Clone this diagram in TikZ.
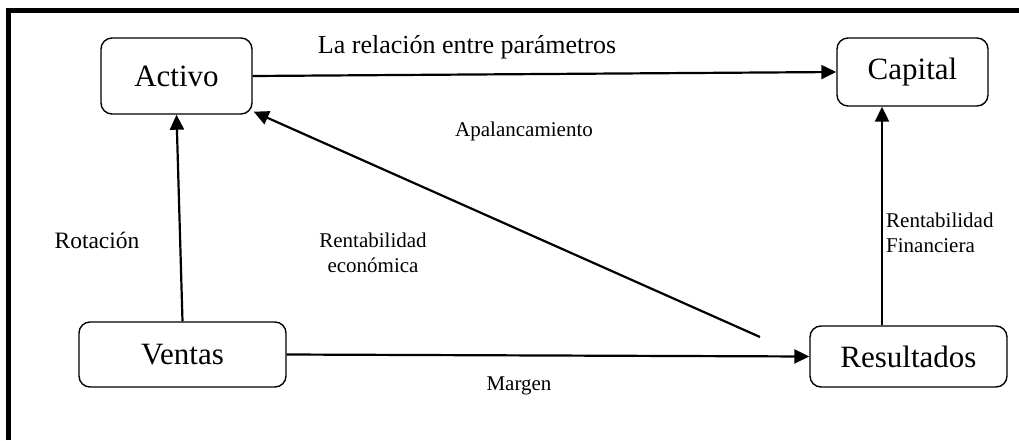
\documentclass[tikz,border=0pt]{standalone}
\usepackage{fontspec}
\setmainfont{Liberation Serif}
\newfontfamily\tms{Liberation Serif}
\usetikzlibrary{arrows.meta}
\begin{document}
\begin{tikzpicture}[x=1pt,y=-1pt,
  box/.style={draw,line width=1.4pt,rounded corners=11pt,inner sep=0pt,
    font=\tms\fontsize{31}{36}\selectfont},
  conn/.style={line width=2.2pt,-{Triangle[length=15pt,width=14pt]}},
  biglbl/.style={inner sep=0pt,font=\tms\fontsize{26}{30}\selectfont},
  lbl/.style={inner sep=0pt,font=\tms\fontsize{21}{25}\selectfont}]
\useasboundingbox (0,0) rectangle (1019,440);
% frame (top and left)
\draw[line width=4.5pt] (8.5,440) -- (8.5,10.5) -- (1019,10.5);
% boxes
\node[box,minimum width=151pt,minimum height=76pt] (act) at (176.5,76) {Activo};
\node[box,minimum width=151pt,minimum height=68pt] (cap) at (912.5,72) {Capital};
\node[box,minimum width=207pt,minimum height=65pt] (ven) at (182.5,354.5) {Ventas};
\node[box,minimum width=197pt,minimum height=61pt] (res) at (908.5,356.5) {Resultados};
\coordinate (rs) at (760,337);
% connectors
\draw[conn] (act.east) -- (cap.west);
\draw[conn] (ven.north) -- (act.south);
\draw[conn] (ven.east) -- (res.west);
\draw[conn] (rs) -- ([shift={(1,-3)}]act.south east);
\draw[conn] ([xshift=-26.5pt]res.north) -- ([xshift=-30.5pt]cap.south);
% labels
\node[biglbl] (l1) at (467,47) {La relación entre parámetros};
\node[lbl] (l2) at (524,131) {Apalancamiento};
\node[lbl,align=center] (l3) at (373,253) {Rentabilidad\\económica};
\node[lbl,font=\tms\fontsize{23.5}{28}\selectfont] (l4) at (97,240) {Rotación};
\node[lbl,align=left,anchor=west] (l5) at (886,233) {Rentabilidad\\Financiera};
\node[lbl] (l6) at (519,386) {Margen};
\end{tikzpicture}
\end{document}
